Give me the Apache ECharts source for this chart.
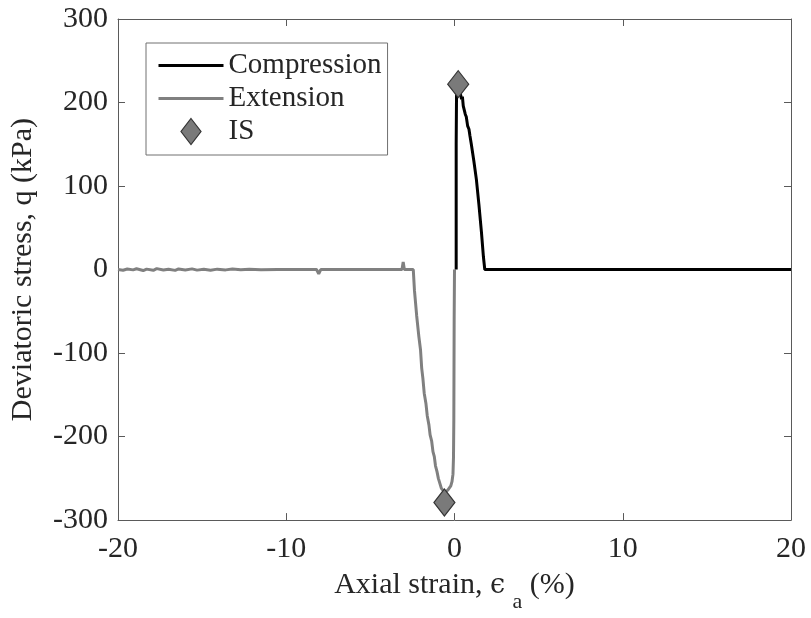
<!DOCTYPE html>
<html>
<head>
<meta charset="utf-8">
<script src="https://cdn.jsdelivr.net/npm/echarts@6/dist/echarts.min.js"></script>
<style>
html,body{margin:0;padding:0;background:#fff;}
#chart{width:811px;height:618px;}
</style>
</head>
<body>
<div id="chart"></div>
<script>
// Compression curve (axial strain %, deviatoric stress kPa)
var compX = [0.1, 0.1, 0.12, 0.18, 0.25, 0.32, 0.38, 0.42, 0.47, 0.52, 0.58, 0.64, 0.7, 0.78, 0.86, 0.92, 1.0, 1.15, 1.3, 1.45, 1.6, 1.72, 1.8, 20];
var compY = [0, 150, 208, 216, 219, 213, 214, 204, 207, 196, 198, 186, 183, 172, 168, 160, 150, 130, 108, 78, 45, 15, 0, 0];

// Extension curve
var extX = [-20, -19.7, -19.45, -19.1, -18.9, -18.5, -18.3, -17.9, -17.7, -17.3, -17.0, -16.6, -16.4, -16.0, -15.6, -15.3, -14.9, -14.5, -14.1, -13.6, -13.2, -12.7, -12.2, -11.5, -10.5, -9.5, -8.2, -8.07, -7.95, -6.0, -4.5, -3.12, -3.05, -2.98, -2.45,
            -2.38, -2.25, -2.12, -2.02, -1.95, -1.88, -1.8, -1.7, -1.62, -1.52, -1.45, -1.36, -1.28, -1.2, -1.13, -1.04, -0.96, -0.87, -0.78, -0.66, -0.52, -0.4, -0.3, -0.22, -0.15, -0.09, -0.06, -0.04, -0.03, -0.02, 0];
var extY = [0, -0.8, 0.6, -0.4, 0.9, -1.2, 0.5, -0.9, 1.1, -0.6, 0.4, -1.0, 0.7, -0.5, 0.8, -0.7, 0.3, -0.8, 0.5, -0.4, 0.6, -0.3, 0.3, -0.2, 0, 0.2, 0, -5, 0, 0.2, 0, 0, 9, 0, 0,
            -25, -55, -80, -96, -118, -130, -148, -160, -175, -186, -198, -205, -218, -224, -235, -242, -250, -256, -262, -265, -266, -264, -262, -259, -254, -245, -225, -180, -120, -60, 0];

// Initial state (IS) markers
var isX = [0.22, -0.6];
var isY = [222, -279];

// Axis ticks
var xTicks = [-20, -10, 0, 10, 20];
var yTicks = [-300, -200, -100, 0, 100, 200, 300];

function pairs(xs, ys) { return xs.map(function (x, i) { return [x, ys[i]]; }); }

var FONT = 'Liberation Serif';
var TXT = '#262626';
var AX = '#5a5a5a';
var DIAMOND = 'path://M10,0 L20,13 L10,26 L0,13 Z';

var chart = echarts.init(document.getElementById('chart'), null, {renderer: 'canvas'});

function axisCommon(extra) {
  return Object.assign({
    axisLine: {show: true, onZero: false, lineStyle: {color: AX, width: 1}},
    axisTick: {show: true, inside: true, length: 7, lineStyle: {color: AX, width: 1}},
    splitLine: {show: false}
  }, extra);
}

var option = {
  backgroundColor: '#ffffff',
  animation: false,
  grid: {left: 117, right: 20, top: 19, bottom: 96, containLabel: false},
  xAxis: [
    axisCommon({
      type: 'value', position: 'bottom',
      min: xTicks[0], max: xTicks[xTicks.length - 1], interval: 10,
      axisLabel: {show: true, margin: 14, color: TXT, fontFamily: FONT, fontSize: 30},
      name: 'Axial strain, {e|ϵ} {sub|a} (%)',
      nameLocation: 'middle', nameGap: 44,
      nameTextStyle: {
        color: TXT, fontFamily: FONT, fontSize: 30, verticalAlign: 'top',
        rich: {
          e: {fontFamily: 'DejaVu Serif', fontSize: 27, color: TXT, verticalAlign: 'top', lineHeight: 32, padding: [3, 0, 0, 0]},
          sub: {fontFamily: FONT, fontSize: 22, color: TXT, verticalAlign: 'top', lineHeight: 22, padding: [22, 0, 0, 0]}
        }
      }
    }),
    axisCommon({
      type: 'value', position: 'top',
      min: xTicks[0], max: xTicks[xTicks.length - 1], interval: 10,
      axisLabel: {show: false}
    })
  ],
  yAxis: [
    axisCommon({
      type: 'value', position: 'left',
      min: yTicks[0], max: yTicks[yTicks.length - 1], interval: 100,
      axisLabel: {show: true, margin: 10, color: TXT, fontFamily: FONT, fontSize: 30},
      name: 'Deviatoric stress, q (kPa)',
      nameLocation: 'middle', nameGap: 80, nameRotate: 90,
      nameTextStyle: {color: TXT, fontFamily: FONT, fontSize: 30}
    }),
    axisCommon({
      type: 'value', position: 'right',
      min: yTicks[0], max: yTicks[yTicks.length - 1], interval: 100,
      axisLabel: {show: false}
    })
  ],
  legend: {
    orient: 'vertical',
    left: 146, top: 43,
    padding: [8, 6, 9, 11],
    itemWidth: 65, itemHeight: 26, itemGap: 4,
    symbolKeepAspect: true,
    borderColor: '#707070', borderWidth: 1,
    backgroundColor: '#ffffff',
    textStyle: {color: TXT, fontFamily: FONT, fontSize: 29},
    data: [
      {name: 'Compression', itemStyle: {color: 'rgba(0,0,0,0)', borderWidth: 0}, lineStyle: {color: '#000000', width: 3}},
      {name: 'Extension', itemStyle: {color: 'rgba(0,0,0,0)', borderWidth: 0}, lineStyle: {color: '#808080', width: 3}},
      {name: 'IS', icon: DIAMOND, itemStyle: {color: '#7a7a7a', borderColor: '#333333', borderWidth: 1.2}}
    ]
  },
  series: [
    {
      name: 'Compression', type: 'line', xAxisIndex: 0, yAxisIndex: 0,
      data: pairs(compX, compY), showSymbol: false, symbol: 'none',
      lineStyle: {color: '#000000', width: 3}, itemStyle: {color: '#000000'}, z: 3
    },
    {
      name: 'Extension', type: 'line', xAxisIndex: 0, yAxisIndex: 0,
      data: pairs(extX, extY), showSymbol: false, symbol: 'none',
      lineStyle: {color: '#808080', width: 3}, itemStyle: {color: '#808080'}, z: 2
    },
    {
      name: 'IS', type: 'scatter', xAxisIndex: 0, yAxisIndex: 0,
      data: pairs(isX, isY), symbol: 'diamond', symbolSize: [21, 27],
      itemStyle: {color: '#7a7a7a', borderColor: '#333333', borderWidth: 1.2, opacity: 1}, z: 4
    }
  ]
};
chart.setOption(option);
</script>
</body>
</html>
